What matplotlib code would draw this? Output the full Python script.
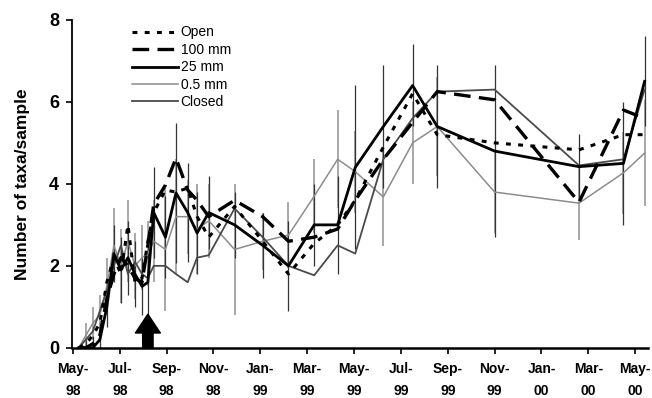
import matplotlib

matplotlib.use("Agg")
import matplotlib.pyplot as plt
import numpy as np

plt.rcParams["font.family"] = ["Liberation Sans", "DejaVu Sans"]

# sampling dates, months after 1 May 1998
months = [0.25, 0.55, 0.85, 1.15, 1.45, 1.75, 2.05, 2.35, 2.65, 2.95, 3.2, 3.45,
          3.95, 4.4, 4.9, 5.3, 5.8, 6.9, 8.1, 9.2, 10.3, 11.3, 12.05, 13.25,
          14.5, 15.55, 18.0, 21.6, 23.5, 24.4]

open_vals = [0.0, 0.1, 0.3, 0.6, 1.6, 2.2, 1.8, 3.0, 1.6, 1.7, 2.6, 3.3,
             3.85, 3.8, 3.9, 3.2, 2.7, 3.45, 2.6, 1.8, 2.55, 3.0, 3.6, 4.9,
             6.2, 5.2, 5.0, 4.83, 5.2, 5.2]
mm100_vals = [0.0, 0.0, 0.1, 0.3, 1.2, 1.8, 2.2, 2.0, 1.7, 1.6, 2.5, 3.5,
              3.97, 4.63, 3.85, 3.6, 3.2, 3.6, 3.2, 2.6, 2.7, 2.9, 3.6, 4.6,
              5.5, 6.25, 6.05, 3.55, 5.8, 5.6]
mm25_vals = [0.0, 0.0, 0.0, 0.2, 1.0, 2.3, 1.9, 2.2, 1.8, 1.5, 1.6, 3.3,
             2.7, 3.78, 3.3, 2.8, 3.3, 3.0, 2.5, 2.0, 3.0, 3.0, 4.4, 5.4,
             6.4, 5.4, 4.8, 4.42, 4.5, 6.5]
mm05_vals = [0.0, 0.3, 0.6, 0.8, 1.5, 2.5, 2.0, 2.6, 2.0, 2.2, 2.3, 2.6,
             2.4, 3.2, 3.2, 2.9, 3.1, 2.4, 2.6, 2.75, 3.7, 4.6, 4.3, 3.68,
             5.0, 5.4, 3.8, 3.53, 4.27, 4.75]
closed_vals = [0.0, 0.2, 0.4, 0.9, 1.4, 2.0, 2.5, 1.8, 2.1, 1.8, 1.7, 2.0,
               2.0, 1.8, 1.6, 2.2, 2.26, 3.4, 2.7, 2.0, 1.77, 2.5, 2.3, 4.6,
               5.6, 6.25, 6.3, 4.45, 4.6, 6.3]

mm25_err = [0.0, 0.2, 0.3, 0.4, 0.5, 0.7, 0.8, 0.9, 0.8, 0.7, 0.9, 1.1,
            1.0, 1.7, 1.2, 1.0, 0.9, 0.8, 0.8, 1.1, 1.0, 1.2, 2.0, 1.5,
            1.0, 1.5, 2.1, 0.8, 1.5, 1.1]
mm05_err = [0.0, 0.3, 0.4, 0.5, 0.7, 0.9, 0.9, 1.0, 0.8, 0.8, 0.8, 1.0,
            1.5, 1.4, 0.9, 1.1, 0.9, 1.6, 0.7, 0.8, 0.9, 1.2, 1.0, 1.2,
            1.0, 1.2, 1.0, 0.9, 1.0, 1.3]

tick_pos = list(range(0, 25, 2))
tick_labels = ["May-\n98", "Jul-\n98", "Sep-\n98", "Nov-\n98", "Jan-\n99", "Mar-\n99",
               "May-\n99", "Jul-\n99", "Sep-\n99", "Nov-\n99", "Jan-\n00", "Mar-\n00",
               "May-\n00"]
arrow_month = 3.2

fig = plt.figure(figsize=(6.52, 3.98), dpi=100)
ax = fig.add_axes([0.110, 0.126, 0.884, 0.824])

ax.errorbar(months, mm05_vals, yerr=mm05_err, fmt="none", ecolor="#a8a8a8",
            elinewidth=1.4, capsize=0, zorder=1)
ax.errorbar(months, mm25_vals, yerr=mm25_err, fmt="none", ecolor="#333333",
            elinewidth=0.9, capsize=0, zorder=1)

ax.plot(months, open_vals, color="black", lw=2.2, dashes=(1.6, 2.4), label="Open", zorder=3)
ax.plot(months, mm100_vals, color="black", lw=2.4, dashes=(5, 2.5), label="100 mm", zorder=3)
ax.plot(months, mm25_vals, color="black", lw=2.0, label="25 mm", zorder=4)
ax.plot(months, mm05_vals, color="#8c8c8c", lw=1.1, label="0.5 mm", zorder=2)
ax.plot(months, closed_vals, color="#4a4a4a", lw=1.3, label="Closed", zorder=2)

ax.annotate("", xy=(arrow_month, 0.82), xytext=(arrow_month, 0.0),
            arrowprops=dict(arrowstyle="simple,head_width=1.2,head_length=0.9,tail_width=0.5",
                            color="black", mutation_scale=15, shrinkA=0, shrinkB=0),
            zorder=5)

ax.set_xlim(-0.05, 24.55)
ax.set_ylim(0, 8)
ax.set_xticks(tick_pos)
ax.set_xticklabels(tick_labels, fontsize=10, fontweight="bold", linespacing=1.75)
ax.set_yticks([0, 2, 4, 6, 8])
ax.set_yticklabels(["0", "2", "4", "6", "8"], fontsize=13, fontweight="bold")
ax.set_ylabel("Number of taxa/sample", fontsize=12.5, fontweight="bold", labelpad=14)
ax.tick_params(axis="both", direction="out", length=4, width=1.2)
ax.tick_params(axis="x", pad=6)
ax.tick_params(axis="y", pad=5)
for side in ("top", "right"):
    ax.spines[side].set_visible(False)
ax.spines["left"].set_linewidth(1.3)
ax.spines["bottom"].set_linewidth(1.8)

ax.legend(loc="upper left", bbox_to_anchor=(0.095, 1.0), frameon=False, fontsize=10,
          handlelength=3.3, handletextpad=0.2, labelspacing=0.25, borderaxespad=0)

fig.savefig("out.png", dpi=100)
